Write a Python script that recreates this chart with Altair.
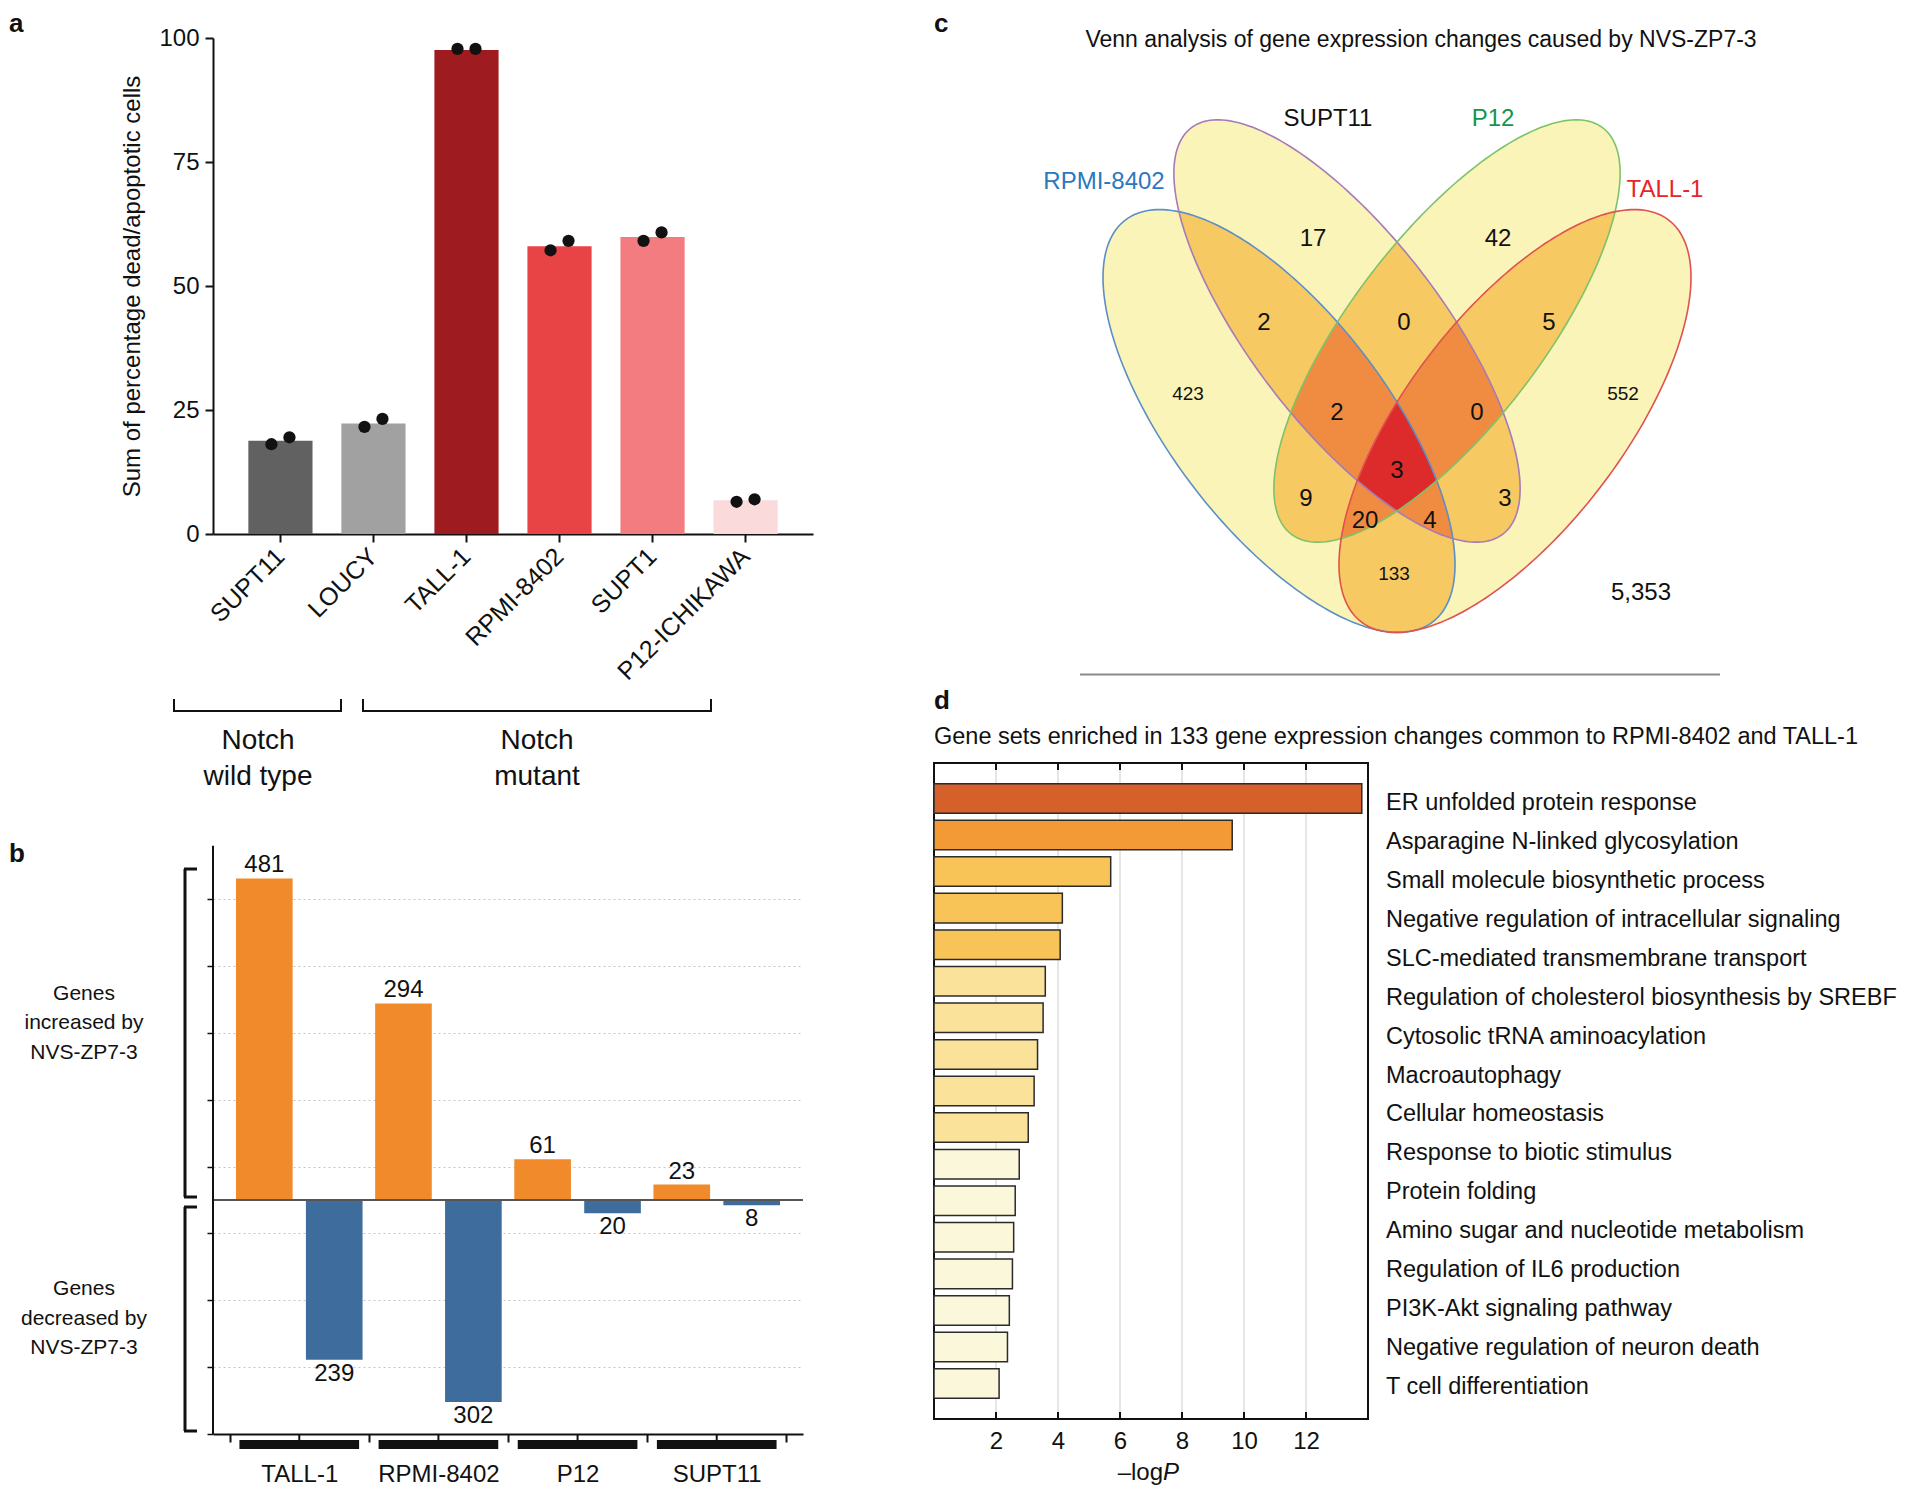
import math
from itertools import combinations
import altair as alt
import pandas as pd

FONT = "Liberation Sans"
INK = "#111111"

# ---------------- panel a : cell death ----------------
a_lines = ["SUPT11", "LOUCY", "TALL-1", "RPMI-8402", "SUPT1", "P12-ICHIKAWA"]
a_mean = [18.8, 22.3, 97.6, 58.0, 59.9, 6.8]
a_rep1 = [18.1, 21.6, 97.8, 57.2, 59.1, 6.5]
a_rep2 = [19.5, 23.2, 97.8, 59.1, 60.8, 7.0]
a_colors = ["#616161", "#a1a1a1", "#9e1b1f", "#e84446", "#f27c80", "#fadadb"]
a_ticks = [0, 25, 50, 75, 100]

# ---------------- panel b : genes up / down ----------------
b_lines = ["TALL-1", "RPMI-8402", "P12", "SUPT11"]
b_up = [481, 294, 61, 23]
b_down = [239, 302, 20, 8]
b_ticks = [-350, -300, -250, -200, -150, -100, -50, 0, 50, 100, 150, 200,
           250, 300, 350, 400, 450, 500]
b_axis_span = [530, -350]

# ---------------- panel c : Venn ----------------
venn_sets = ["RPMI-8402", "SUPT11", "P12", "TALL-1"]
venn_regions = ["R", "S", "P", "T", "RS", "SP", "PT", "RSP", "SPT", "RSPT",
                "RP", "ST", "RPT", "RST", "RT", "none"]
venn_counts = [423, 17, 42, 552, 2, 0, 5, 2, 0, 3, 9, 3, 20, 4, 133, 5353]

# ---------------- panel d : enrichment ----------------
d_terms = ["ER unfolded protein response", "Asparagine N-linked glycosylation",
           "Small molecule biosynthetic process",
           "Negative regulation of intracellular signaling",
           "SLC-mediated transmembrane transport",
           "Regulation of cholesterol biosynthesis by SREBF",
           "Cytosolic tRNA aminoacylation", "Macroautophagy", "Cellular homeostasis",
           "Response to biotic stimulus", "Protein folding",
           "Amino sugar and nucleotide metabolism", "Regulation of IL6 production",
           "PI3K-Akt signaling pathway", "Negative regulation of neuron death",
           "T cell differentiation"]
d_values = [13.80, 9.62, 5.70, 4.14, 4.07, 3.59, 3.52, 3.34, 3.23, 3.04,
            2.75, 2.62, 2.57, 2.53, 2.43, 2.37, 2.10]
d_ticks = [2, 4, 6, 8, 10, 12]
d_thresholds = [3.0, 4.0, 8.0, 12.0]
d_colors = ["#fbf7da", "#fbe29a", "#f9c457", "#f39a36", "#d5602a"]

# ---------------- layout / style (not data) ----------------
A_W, A_H = 600, 496
B_W, B_H = 590, 671
C_W, C_H = 780, 413
D_W, D_H = 434, 656
BY = 83          # b: distance from view top to the top of its axis line
CX = 10          # c: horizontal shift of the Venn inside its view

ONE = pd.DataFrame({"k": [0]})


def text_at(s, x, y, size=24, align="center", baseline="middle", color=INK,
            weight="normal", style="normal"):
    return alt.Chart(ONE).mark_text(
        fontSize=size, align=align, baseline=baseline, color=color,
        fontWeight=weight, fontStyle=style, font=FONT
    ).encode(x=alt.value(x), y=alt.value(y), text=alt.value(s))


def rule_at(x, y, x2, y2, color=INK, width=2):
    return alt.Chart(ONE).mark_rule(color=color, strokeWidth=width).encode(
        x=alt.value(x), y=alt.value(y), x2=alt.value(x2), y2=alt.value(y2))


# ====================== panel a ======================
df_a = pd.DataFrame({"line": a_lines, "pct": a_mean, "color": a_colors})
df_dots = pd.DataFrame({"line": a_lines * 2, "pct": a_rep1 + a_rep2,
                        "rep": ["r1"] * 6 + ["r2"] * 6})

xa = alt.X("line:N", sort=a_lines, title=None,
           scale=alt.Scale(paddingInner=0.31, paddingOuter=0.38),
           axis=alt.Axis(labelAngle=-45, labelAlign="right", labelBaseline="middle",
                         labelFontSize=25, labelPadding=10, tickSize=8, tickWidth=2,
                         domainWidth=2, labelLimit=400, labelOverlap=False))
ya = alt.Y("pct:Q", scale=alt.Scale(domain=[0, 100], nice=False),
           axis=alt.Axis(values=a_ticks, title="Sum of percentage dead/apoptotic cells",
                         titleFontSize=24, titleFontWeight="normal", titlePadding=14,
                         labelFontSize=24, labelPadding=6, tickSize=8, tickWidth=2,
                         domainWidth=2, grid=False))

bars_a = alt.Chart(df_a).mark_bar().encode(x=xa, y=ya, color=alt.Color("color:N", scale=None))
dots_a1 = alt.Chart(df_dots).transform_filter("datum.rep == 'r1'").mark_circle(
    size=150, color=INK, opacity=1, xOffset=-9).encode(
    x=alt.X("line:N", sort=a_lines), y=alt.Y("pct:Q"))
dots_a2 = alt.Chart(df_dots).transform_filter("datum.rep == 'r2'").mark_circle(
    size=150, color=INK, opacity=1, xOffset=9).encode(
    x=alt.X("line:N", sort=a_lines), y=alt.Y("pct:Q"))

ann_a = [
    text_at("a", -204, -27, size=26, align="left", baseline="top", weight="bold"),
    rule_at(-39, 673, 128, 673), rule_at(-39, 661, -39, 674), rule_at(128, 661, 128, 674),
    rule_at(150, 673, 498, 673), rule_at(150, 661, 150, 674), rule_at(498, 661, 498, 674),
    text_at("Notch", 45, 703, size=28), text_at("wild type", 45, 739, size=28),
    text_at("Notch", 324, 703, size=28), text_at("mutant", 324, 739, size=28),
]
chart_a = alt.layer(bars_a, dots_a1, dots_a2, *ann_a).properties(width=A_W, height=A_H)

# ====================== panel b ======================
rows_b = []
for g, u, d in zip(b_lines, b_up, b_down):
    rows_b.append({"line": g, "dir": "up", "n": u, "label": str(u)})
    rows_b.append({"line": g, "dir": "down", "n": -d, "label": str(d)})
df_b = pd.DataFrame(rows_b)
df_bl = pd.DataFrame({"line": b_lines})

xb = alt.X("line:N", sort=b_lines, title=None,
           scale=alt.Scale(paddingInner=0, paddingOuter=0.12),
           axis=alt.Axis(tickBand="extent", labelAngle=0, labelFontSize=24, labelPadding=20,
                         tickSize=8, tickWidth=2, domainWidth=2))
xob = alt.XOffset("dir:N", sort=["up", "down"],
                  scale=alt.Scale(paddingInner=0.19, paddingOuter=0.09))
yb = alt.Y("n:Q", scale=alt.Scale(domain=[-350, 653.6], nice=False),
           axis=alt.Axis(values=b_ticks, labels=False, title=None, grid=True,
                         gridDash=[2, 3], gridColor="#c4c4c4", gridWidth=1,
                         tickSize=6, tickWidth=1.5, domain=False))

bars_b = alt.Chart(df_b).mark_bar().encode(
    x=xb, xOffset=xob, y=yb, y2=alt.datum(0),
    color=alt.Color("dir:N", scale=alt.Scale(domain=["up", "down"],
                                             range=["#f08a2b", "#3e6c9d"]), legend=None))
lab_up = alt.Chart(df_b).transform_filter("datum.dir == 'up'").mark_text(
    fontSize=24, baseline="bottom", dy=-1, color=INK).encode(
    x=alt.X("line:N", sort=b_lines), xOffset=alt.XOffset("dir:N", sort=["up", "down"]),
    y=alt.Y("n:Q"), text="label:N")
lab_dn = alt.Chart(df_b).transform_filter("datum.dir == 'down'").mark_text(
    fontSize=24, baseline="top", dy=2, color=INK).encode(
    x=alt.X("line:N", sort=b_lines), xOffset=alt.XOffset("dir:N", sort=["up", "down"]),
    y=alt.Y("n:Q"), text="label:N")
zero_b = alt.Chart(ONE).mark_rule(color="#555555", strokeWidth=2).encode(y=alt.datum(0))
yaxis_b = alt.Chart(ONE).mark_rule(color=INK, strokeWidth=2).encode(
    x=alt.value(0), y=alt.datum(b_axis_span[0]), y2=alt.datum(b_axis_span[1]))
center_ticks = alt.Chart(df_bl).mark_rule(color=INK, strokeWidth=2).encode(
    x=alt.X("line:N", sort=b_lines), y=alt.value(B_H), y2=alt.value(B_H + 8))
black_bars = alt.Chart(df_bl).mark_bar(color=INK, width=alt.RelativeBandSize(band=0.86)).encode(
    x=alt.X("line:N", sort=b_lines), y=alt.value(B_H + 6), y2=alt.value(B_H + 15))

ann_b = [
    text_at("b", -204, BY + 8, size=26, align="left", weight="bold"),
    rule_at(-28, BY + 23, -28, BY + 351, width=3), rule_at(-29, BY + 23, -16, BY + 23, width=3),
    rule_at(-29, BY + 351, -16, BY + 351, width=3),
    rule_at(-28, BY + 361, -28, BY + 585, width=3), rule_at(-29, BY + 361, -16, BY + 361, width=3),
    rule_at(-29, BY + 585, -16, BY + 585, width=3),
    text_at("Genes", -129, BY + 148, size=21), text_at("increased by", -129, BY + 177, size=21),
    text_at("NVS-ZP7-3", -129, BY + 207, size=21),
    text_at("Genes", -129, BY + 443, size=21), text_at("decreased by", -129, BY + 473, size=21),
    text_at("NVS-ZP7-3", -129, BY + 502, size=21),
]
chart_b = alt.layer(bars_b, zero_b, yaxis_b, lab_up, lab_dn, center_ticks, black_bars,
                    *ann_b).properties(width=B_W, height=B_H)

# ====================== panel c (Venn) ======================
# ellipse geometry: centre x, centre y, semi-major, semi-minor, rotation (deg)
venn_ellipses = [(335, 383, 253, 108, 52.6), (403, 293, 256, 95, 52.5),
                 (503, 293, 256, 95, 127.5), (571, 383, 253, 108, 127.4)]
venn_outline_colors = ["#5b8fc7", "#a67bb8", "#7dc36b", "#e05252"]
venn_label_colors = ["#2a78be", "#111111", "#13964a", "#e3262a"]
venn_set_label_pos = [(160, 144), (384, 81), (549, 81), (721, 152)]
venn_level_colors = ["#faf4b8", "#f7c963", "#f08c42", "#dd2a2a"]
venn_count_pos = [(244, 356), (369, 201), (554, 201), (679, 356), (320, 285), (460, 285),
                  (605, 285), (393, 375), (533, 375), (453, 433), (362, 461), (561, 461),
                  (421, 483), (486, 483), (450, 536), (697, 555)]
venn_count_size = [19, 24, 24, 19, 24, 24, 24, 24, 24, 24, 24, 24, 24, 24, 19, 24]


def ellipse_pts(cx, cy, a, b, deg, n=240):
    th = math.radians(deg)
    ct, st = math.cos(th), math.sin(th)
    pts = []
    for k in range(n):
        t = 2 * math.pi * k / n
        u, v = a * math.cos(t), b * math.sin(t)
        pts.append((cx + u * ct - v * st, cy + u * st + v * ct))
    return pts


def signed_area(poly):
    s = 0.0
    for k in range(len(poly)):
        x1, y1 = poly[k]
        x2, y2 = poly[(k + 1) % len(poly)]
        s += x1 * y2 - x2 * y1
    return s / 2


def clip_convex(subject, clipper):
    sgn = 1.0 if signed_area(clipper) > 0 else -1.0
    out = list(subject)
    n = len(clipper)
    for k in range(n):
        ax, ay = clipper[k]
        bx, by = clipper[(k + 1) % n]
        inp, out = out, []
        if not inp:
            break

        def side(p):
            return sgn * ((bx - ax) * (p[1] - ay) - (by - ay) * (p[0] - ax))

        prev = inp[-1]
        sp = side(prev)
        for cur in inp:
            sc = side(cur)
            if sc >= 0:
                if sp < 0:
                    t = sp / (sp - sc)
                    out.append((prev[0] + t * (cur[0] - prev[0]), prev[1] + t * (cur[1] - prev[1])))
                out.append(cur)
            elif sp >= 0:
                t = sp / (sp - sc)
                out.append((prev[0] + t * (cur[0] - prev[0]), prev[1] + t * (cur[1] - prev[1])))
            prev, sp = cur, sc
    return out


shapes = [ellipse_pts(*e) for e in venn_ellipses]
poly_rows = []
for level in range(1, 5):
    for combo in combinations(range(4), level):
        pts = shapes[combo[0]]
        for j in combo[1:]:
            pts = clip_convex(pts, shapes[j])
        if len(pts) < 3:
            continue
        pid = "p" + "".join(str(c) for c in combo)
        for i, (x, y) in enumerate(pts + [pts[0]]):
            poly_rows.append({"level": level, "pid": pid, "i": i, "x": x, "y": y})
df_poly = pd.DataFrame(poly_rows)

outline_rows = []
for name, pts in zip(venn_sets, shapes):
    for i, (x, y) in enumerate(pts + [pts[0]]):
        outline_rows.append({"set": name, "i": i, "x": x, "y": y})
df_outline = pd.DataFrame(outline_rows)

df_counts = pd.DataFrame({
    "region": venn_regions,
    "txt": [f"{c:,}" for c in venn_counts],
    "x": [p[0] for p in venn_count_pos], "y": [p[1] for p in venn_count_pos],
    "size": venn_count_size})
df_setlab = pd.DataFrame({
    "set": venn_sets, "col": venn_label_colors,
    "x": [p[0] for p in venn_set_label_pos], "y": [p[1] for p in venn_set_label_pos]})

xs = alt.Scale(domain=[-CX, C_W - CX], nice=False, zero=False)
ys = alt.Scale(domain=[0, C_H], nice=False, zero=False, reverse=True)

fill_layers = []
for level, col in zip(range(1, 5), venn_level_colors):
    fill_layers.append(
        alt.Chart(df_poly).transform_filter(f"datum.level == {level}").mark_line(
            fill=col, stroke=col, strokeWidth=0.6, interpolate="linear").encode(
            x=alt.X("x:Q", scale=xs, axis=None), y=alt.Y("y:Q", scale=ys, axis=None),
            detail="pid:N", order="i:Q"))
outlines = alt.Chart(df_outline).mark_line(strokeWidth=1.6).encode(
    x=alt.X("x:Q", scale=xs, axis=None), y=alt.Y("y:Q", scale=ys, axis=None),
    color=alt.Color("set:N", scale=alt.Scale(domain=venn_sets, range=venn_outline_colors),
                    legend=None),
    detail="set:N", order="i:Q")
counts = alt.Chart(df_counts).mark_text(color=INK).encode(
    x=alt.X("x:Q", scale=xs, axis=None), y=alt.Y("y:Q", scale=ys, axis=None),
    text="txt:N", size=alt.Size("size:Q", scale=None))
setlabs = alt.Chart(df_setlab).mark_text(fontSize=24).encode(
    x=alt.X("x:Q", scale=xs, axis=None), y=alt.Y("y:Q", scale=ys, axis=None),
    text="set:N", color=alt.Color("col:N", scale=None))

ann_c = [
    text_at("c", 0, -27, size=26, align="left", baseline="top", weight="bold"),
    text_at("Venn analysis of gene expression changes caused by NVS-ZP7-3", 477 + CX, 2, size=23),
    rule_at(136 + CX, 636.5, 776 + CX, 636.5, color="#8a8a8a", width=2),
]
chart_c = alt.layer(*fill_layers, outlines, counts, setlabs, *ann_c).properties(
    width=C_W, height=C_H)

# ====================== panel d ======================
df_d = pd.DataFrame({"rank": list(range(1, len(d_values) + 1)), "v": d_values})
df_terms = pd.DataFrame({"term": d_terms})
df_dt = pd.DataFrame({"v": d_ticks})

xscale_d = alt.Scale(domain=[0, 14], nice=False, zero=False)
xaxis_d = alt.Axis(values=d_ticks, ticks=False, domain=False, grid=False,
                   labelFontSize=24, labelPadding=10, title=None)
xd = alt.X("v:Q", scale=xscale_d, axis=xaxis_d)

grid_d = alt.Chart(df_dt).mark_rule(color="#dedede", strokeWidth=1.5).encode(x=xd)
bars_d = alt.Chart(df_d).mark_bar(stroke="#2b2b2b", strokeWidth=1.5).encode(
    x=xd,
    y=alt.Y("rank:O", scale=alt.Scale(paddingInner=0.193, paddingOuter=0.564), axis=None),
    color=alt.Color("v:Q", scale=alt.Scale(type="threshold", domain=d_thresholds,
                                           range=d_colors), legend=None))
ticks_top = alt.Chart(df_dt).mark_rule(color=INK, strokeWidth=2).encode(
    x=xd, y=alt.value(0), y2=alt.value(7))
ticks_bot = alt.Chart(df_dt).mark_rule(color=INK, strokeWidth=2).encode(
    x=xd, y=alt.value(D_H - 7), y2=alt.value(D_H))
terms_d = alt.Chart(df_terms).mark_text(align="left", fontSize=23.5, color=INK).encode(
    x=alt.value(D_W + 18),
    y=alt.Y("term:N", sort=d_terms,
            scale=alt.Scale(type="point", range=[40, 624], padding=0), axis=None),
    text="term:N")

ann_d = [
    text_at("d", 0, -62, size=26, align="left", weight="bold"),
    text_at("Gene sets enriched in 133 gene expression changes common to RPMI-8402 and TALL-1",
            0, -26, size=23.5, align="left"),
    text_at("\u2013log", 229, 710, size=24, align="right"),
    text_at("P", 229, 710, size=24, align="left", style="italic"),
]
chart_d = alt.layer(grid_d, bars_d, ticks_top, ticks_bot, terms_d, *ann_d).resolve_scale(
    y="independent").properties(width=D_W, height=D_H,
                                view=alt.ViewBackground(stroke=INK, strokeWidth=2))

# ====================== assemble ======================
chart = alt.concat(
    chart_a, chart_c, chart_b, chart_d, columns=2,
    spacing={"row": 229, "column": 121}, align="each", bounds="flush"
).properties(padding={"left": 0, "top": 2, "right": 0, "bottom": 0}).configure_view(
    stroke="transparent").configure_axis(
    labelFont=FONT, titleFont=FONT, labelColor=INK, titleColor=INK,
    domainColor=INK, tickColor=INK
).configure_text(font=FONT)

chart.save("out.html", embed_options={"renderer": "svg", "actions": False})
